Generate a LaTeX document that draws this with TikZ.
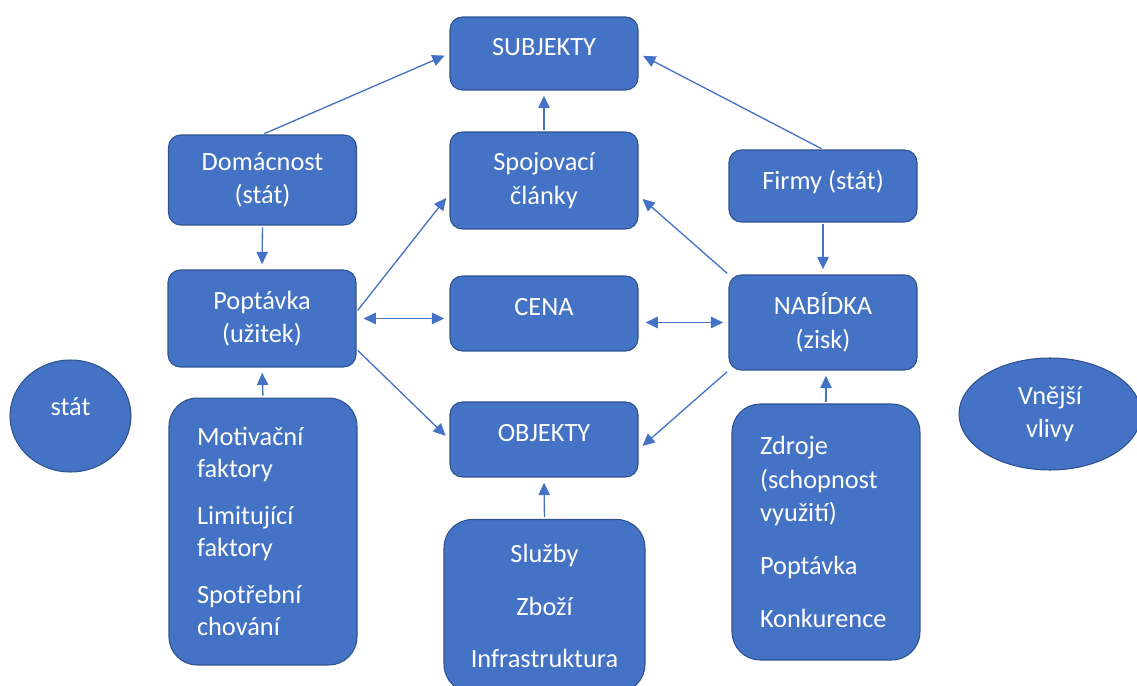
\documentclass[tikz,border=0pt]{standalone}
\usepackage{fontspec}
\setmainfont{Carlito}
\usepackage{tikz}
\usetikzlibrary{shapes.geometric,arrows.meta}
\definecolor{boxblue}{HTML}{4472C4}
\definecolor{boxline}{HTML}{2F528F}
\newcommand{\boxfont}{\fontsize{15}{19}\selectfont}

\tikzset{
	box/.style={draw=boxline,fill=boxblue,line width=0.6pt,rounded corners=7pt,
		text=white,font=\boxfont,align=center,minimum width=3.76cm},
	oneline/.style={text depth=7pt},
	bigbox/.style={box,rounded corners=16pt,text width=2.64cm,align=left,
		font=\fontsize{15}{18}\selectfont},
	oval/.style={ellipse,draw=boxline,fill=boxblue,line width=0.6pt,
		text=white,font=\boxfont,align=center,inner sep=0pt},
	tip/.style={-{Triangle[length=7pt,width=6.5pt]}},
	conn/.style={color=boxblue,line width=0.75pt,shorten >=3pt,shorten <=1pt,tip},
	both/.style={color=boxblue,line width=0.75pt,shorten >=3pt,shorten <=4pt,
		{Triangle[length=7pt,width=6.5pt]}-{Triangle[length=7pt,width=6.5pt]}}
}

\begin{document}
\begin{tikzpicture}[x=0.02cm,y=-0.02cm]
		\useasboundingbox (0,0) rectangle (1137,686);
		% horni rada
		\node[box,oneline,minimum height=1.46cm] (subj) at (544,53.5) {SUBJEKTY};
		\node[box,minimum height=1.8cm] (dom) at (262.5,180) {Domácnost\\(stát)};
		\node[box,minimum height=1.94cm] (spoj) at (544,180.5) {Spojovací\\články};
		\node[box,oneline,minimum height=1.44cm] (firmy) at (823,186) {Firmy (stát)};
		% prostredni rada
		\node[box,minimum height=1.94cm] (popt) at (262,318.5) {Poptávka\\(užitek)};
		\node[box,oneline,minimum height=1.5cm] (cena) at (544,313.5) {CENA};
		\node[box,minimum height=1.9cm] (nab) at (823,322.5) {NABÍDKA\\(zisk)};
		\node[box,oneline,minimum height=1.5cm] (obj) at (544,439.5) {OBJEKTY};
		% spodni rada
		\node[bigbox,minimum height=5.34cm] (fakt) at (263,531.5)
			{Motivační\\faktory\\[9pt]Limitující\\faktory\\[9pt]Spotřební\\chování};
		\node[box,rounded corners=16pt,minimum width=4.02cm,minimum height=3.46cm] (slu) at (544.5,606)
			{Služby\\[11pt]Zboží\\[11pt]Infrastruktura};
		\node[bigbox,font=\boxfont,minimum height=5.12cm] (zdr) at (826,532)
			{Zdroje\\(schopnost\\využití)\\[11pt]Poptávka\\[11pt]Konkurence};
		\node[oval,text depth=11pt,minimum width=2.42cm,minimum height=2.24cm] (stat) at (70.5,416) {stát};
		\node[oval,minimum width=3.64cm,minimum height=2.24cm] (vliv) at (1050,414) {Vnější\\vlivy};
		% sipky
		\path[conn]
		(dom.north) edge (subj.west)
		(spoj.north) edge (subj.south)
		(firmy.north) edge (subj.east)
		(dom.south) edge (popt.north)
		(firmy.south) edge (nab.north)
		(popt.4) edge (spoj.188)
		(popt.-18) edge (obj.west)
		(nab.north west) edge (spoj.-9)
		(nab.south west) edge (obj.-6)
		(fakt.north) edge (popt.south)
		(slu.north) edge (obj.south)
		(zdr.north) edge (zdr.north |- nab.south);
		\draw[both] (popt.east) -- (popt.east -| cena.west);
		\draw[both] (cena.east |- nab.west) -- (nab.west);
\end{tikzpicture}
\end{document}
